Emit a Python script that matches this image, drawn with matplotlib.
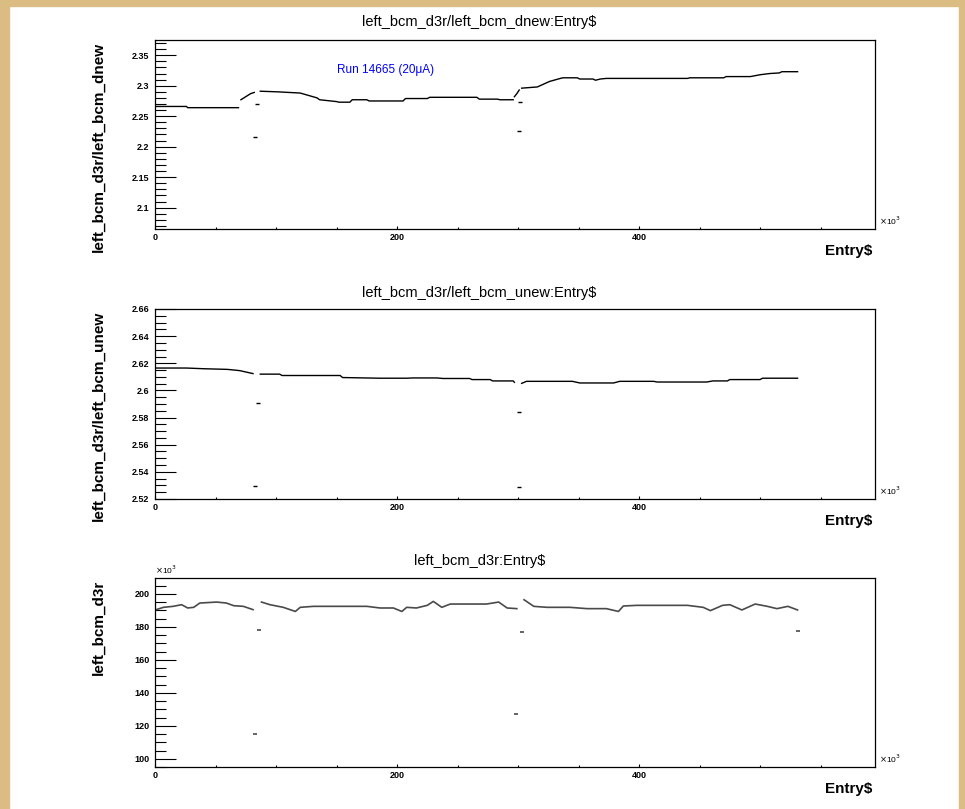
import matplotlib.pyplot as plt
import numpy as np
from matplotlib.patches import Rectangle
from matplotlib.ticker import MultipleLocator, FormatStrFormatter

plt.rcParams['font.family'] = ['Liberation Sans', 'DejaVu Sans']

NAN = float('nan')

# entry numbers in units of 10^3; NAN marks a gap in the trace
dnew_x = [0, 26, 27, 69, NAN,
          71, 75, 79, 82, NAN,
          87, 101, 120, 127, 134, 136, 150, 152, 161, 163, 175, 177, 205, 207,
          225, 227, 266, 268, 283, 285, 296, NAN,
          297, 299, 301, NAN,
          303, 316, 326, 335, 337, 349, 351, 362, 364, 368, 373, 440, 442, 470,
          472, 492, 500, 508, 516, 518, 531]
dnew_y = [2.266, 2.266, 2.264, 2.264, NAN,
          2.277, 2.282, 2.287, 2.289, NAN,
          2.291, 2.290, 2.288, 2.284, 2.280, 2.277, 2.274, 2.273, 2.273, 2.277,
          2.277, 2.275, 2.275, 2.279, 2.279, 2.281, 2.281, 2.278, 2.278, 2.277,
          2.277, NAN,
          2.282, 2.287, 2.293, NAN,
          2.296, 2.298, 2.307, 2.312, 2.313, 2.313, 2.311, 2.311, 2.309, 2.311,
          2.312, 2.312, 2.313, 2.313, 2.315, 2.315, 2.318, 2.320, 2.321, 2.323,
          2.323]
dnew_out_x = [84, 83, 302, 301]
dnew_out_y = [2.270, 2.216, 2.273, 2.225]

unew_x = [0, 26, 40, 60, 70, 81, NAN,
          87, 103, 105, 153, 155, 186, 208, 213, 233, 238, 260, 262, 277, 279,
          296, 297, NAN,
          303, 307, 345, 351, 379, 384, 412, 415, 456, 461, 473, 475, 500, 502,
          531]
unew_y = [2.6165, 2.6165, 2.6160, 2.6155, 2.6146, 2.6124, NAN,
          2.6120, 2.6120, 2.6110, 2.6110, 2.6095, 2.6090, 2.6090, 2.6092,
          2.6092, 2.6088, 2.6088, 2.6080, 2.6080, 2.6070, 2.6070, 2.6060, NAN,
          2.6052, 2.6067, 2.6067, 2.6055, 2.6055, 2.6067, 2.6067, 2.6062,
          2.6062, 2.6070, 2.6070, 2.6080, 2.6080, 2.6090, 2.6090]
unew_out_x = [85, 83, 301, 301]
unew_out_y = [2.5907, 2.5293, 2.5838, 2.5290]

# left_bcm_d3r in units of 10^3
d3r_x = [1, 7, 15, 22, 27, 32, 37, 51, 59, 65, 73, 81, NAN,
         88, 95, 106, 116, 120, 131, 147, 175, 186, 197, 204, 208, 216, 225,
         230, 237, 244, 260, 274, 284, 291, 299, NAN,
         305, 313, 324, 343, 357, 373, 383, 387, 398, 440, 453, 459, 469, 475,
         485, 496, 506, 514, 523, 531]
d3r_y = [190.5, 191.9, 192.5, 193.5, 191.5, 191.9, 194.5, 195.1, 194.5,
         192.9, 192.5, 190.5, NAN,
         195.1, 193.5, 191.9, 189.4, 191.9, 192.5, 192.5, 192.5, 191.5, 191.5,
         189.4, 191.9, 191.5, 193.1, 195.5, 191.9, 193.9, 193.9, 193.9, 195.1,
         191.5, 191.1, NAN,
         196.5, 192.5, 191.9, 191.9, 191.1, 191.1, 189.4, 192.7, 193.1, 193.1,
         191.9, 189.9, 193.1, 193.5, 190.3, 193.9, 192.5, 191.1, 192.5, 190.3]
d3r_out_x = [86, 83, 298, 303, 531]
d3r_out_y = [178.3, 115.2, 127.3, 176.7, 177.7]

W, H = 965, 809
TAN = '#dbbd84'

fig = plt.figure(figsize=(W / 100, H / 100), dpi=100)
fig.patch.set_facecolor('white')
for (x0, y0, w, h) in [(0, 0, 9, H), (0, 0, W, 6), (959, 0, 6, H)]:
    fig.patches.append(Rectangle((x0 / W, 1 - (y0 + h) / H), w / W, h / H,
                                 transform=fig.transFigure, color=TAN, zorder=0))


def make_axes(top, bottom):
    return fig.add_axes([155 / W, 1 - bottom / H, 720 / W, (bottom - top) / H])


def style(ax, ylim, major, minor, fmt, ylabel, title, title_y):
    ax.set_xlim(0, 595)
    ax.set_ylim(*ylim)
    ax.xaxis.set_major_locator(MultipleLocator(200))
    ax.xaxis.set_minor_locator(MultipleLocator(50))
    ax.yaxis.set_major_locator(MultipleLocator(major))
    ax.yaxis.set_minor_locator(MultipleLocator(minor))
    ax.yaxis.set_major_formatter(FormatStrFormatter(fmt))
    ax.tick_params(axis='y', which='major', direction='in', length=15,
                   width=0.8, pad=4, labelsize=6.5)
    ax.tick_params(axis='y', which='minor', direction='in', length=8,
                   width=0.8)
    ax.tick_params(axis='x', which='major', direction='in', length=2.5,
                   width=0.8, pad=3, labelsize=6.5)
    ax.tick_params(axis='x', which='minor', direction='in', length=1.5,
                   width=0.8)
    for lab in ax.get_xticklabels() + ax.get_yticklabels():
        lab.set_fontweight('bold')
    for sp in ax.spines.values():
        sp.set_linewidth(0.9)
    ax.set_ylabel(ylabel, loc='top', fontsize=11, fontweight='bold')
    ax.yaxis.set_label_coords(-0.068, 0.99)
    ax.set_xlabel('Entry$', loc='right', fontsize=11, fontweight='bold')
    ax.xaxis.set_label_coords(0.997, -0.08)
    ax.text(1.005, 0.01, r'$\times$10$^3$', transform=ax.transAxes,
            fontsize=6, ha='left', va='bottom')
    fig.text(0.497, title_y, title, fontsize=10.5, ha='center', va='center')


ax1 = make_axes(40, 229)
ax1.plot(dnew_x, dnew_y, color='black', lw=1.0)
ax1.plot(dnew_out_x, dnew_out_y, '_', color='black', ms=3, mew=1)
style(ax1, (2.065, 2.375), 0.05, 0.01, '%g', 'left_bcm_d3r/left_bcm_dnew',
      'left_bcm_d3r/left_bcm_dnew:Entry$', 1 - 22 / H)
ax1.text(0.253, 0.84, 'Run 14665 (20\u03bcA)', transform=ax1.transAxes,
         color='blue', fontsize=8.5, ha='left', va='center')

ax2 = make_axes(309, 499)
ax2.plot(unew_x, unew_y, color='black', lw=1.0)
ax2.plot(unew_out_x, unew_out_y, '_', color='black', ms=3, mew=1)
style(ax2, (2.52, 2.66), 0.02, 0.005, '%g', 'left_bcm_d3r/left_bcm_unew',
      'left_bcm_d3r/left_bcm_unew:Entry$', 1 - 293 / H)

ax3 = make_axes(578, 767)
ax3.plot(d3r_x, d3r_y, color='#4a4a4a', lw=1.2)
ax3.plot(d3r_out_x, d3r_out_y, '_', color='#4a4a4a', ms=3, mew=1.2)
style(ax3, (95, 209.7), 20, 5, '%g', 'left_bcm_d3r',
      'left_bcm_d3r:Entry$', 1 - 561 / H)
ax3.text(0.0, 1.01, r'$\times$10$^3$', transform=ax3.transAxes,
         fontsize=6, ha='left', va='bottom')

fig.savefig('out.png', dpi=100)
